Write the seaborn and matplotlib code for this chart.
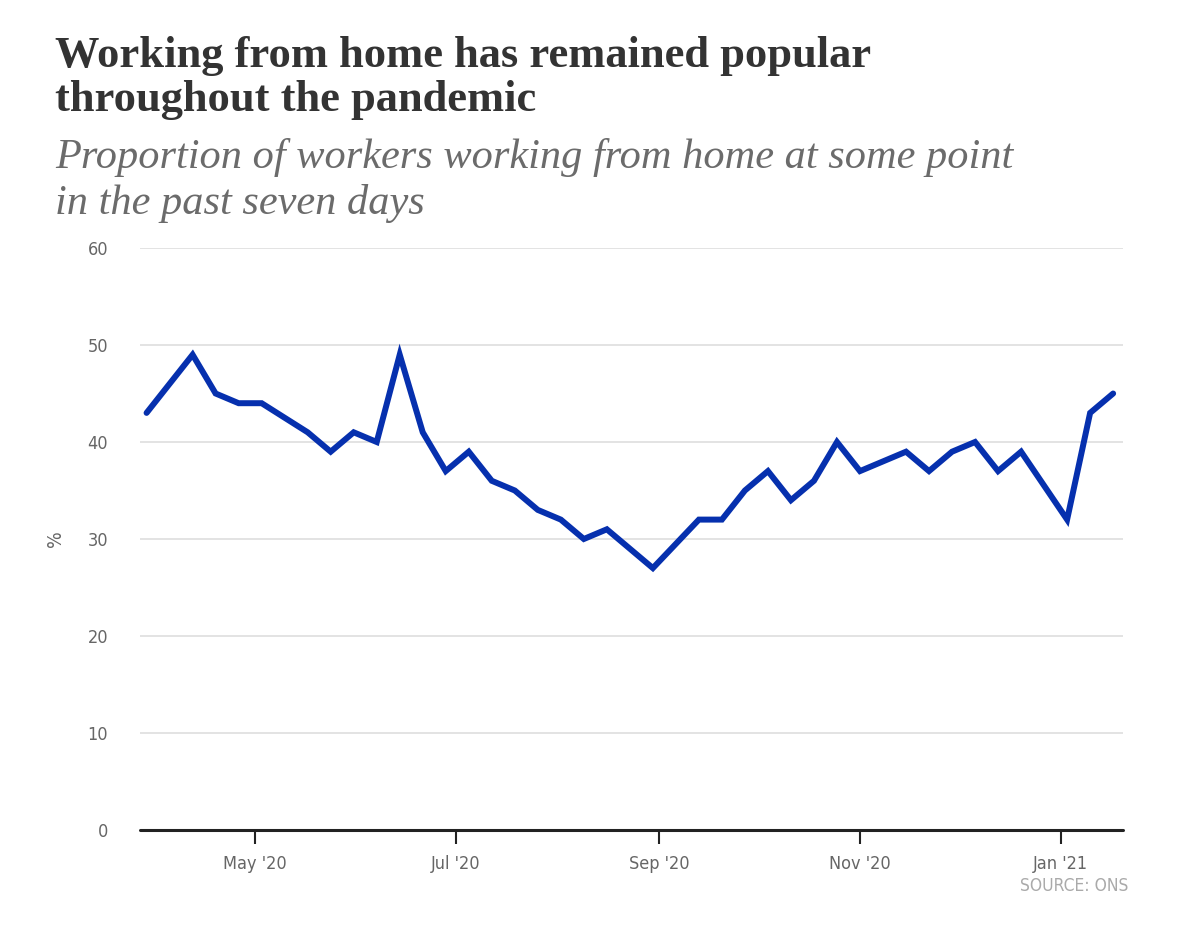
import matplotlib
matplotlib.use("Agg")
import matplotlib.pyplot as plt
import seaborn as sns
import pandas as pd

dates = ["2020-03-29", "2020-04-12", "2020-04-19", "2020-04-26", "2020-05-03",
         "2020-05-10", "2020-05-17", "2020-05-24", "2020-05-31", "2020-06-07",
         "2020-06-14", "2020-06-21", "2020-06-28", "2020-07-05", "2020-07-12",
         "2020-07-19", "2020-07-26", "2020-08-02", "2020-08-09", "2020-08-16",
         "2020-08-30", "2020-09-13", "2020-09-20", "2020-09-27", "2020-10-04",
         "2020-10-11", "2020-10-18", "2020-10-25", "2020-11-01", "2020-11-08",
         "2020-11-15", "2020-11-22", "2020-11-29", "2020-12-06", "2020-12-13",
         "2020-12-20", "2021-01-03", "2021-01-10", "2021-01-17"]
values = [43, 49, 45, 44, 44,
          42.5, 41, 39, 41, 40,
          49, 41, 37, 39, 36,
          35, 33, 32, 30, 31,
          27, 32, 32, 35, 37,
          34, 36, 40, 37, 38,
          39, 37, 39, 40, 37,
          39, 32, 43, 45]
tick_dates = ["2020-05-01", "2020-07-01", "2020-09-01", "2020-11-01", "2021-01-01"]
tick_labels = ["May '20", "Jul '20", "Sep '20", "Nov '20", "Jan '21"]
y_ticks = [0, 10, 20, 30, 40, 50, 60]

df = pd.DataFrame({"date": pd.to_datetime(dates), "value": values})

sns.set_theme(style="white")
plt.rcParams["font.family"] = ["DejaVu Sans"]
plt.rcParams["font.stretch"] = "condensed"

fig = plt.figure(figsize=(12, 9.43), dpi=100)
ax = fig.add_axes([140/1200, 1-830/943, (1123-140)/1200, (830-248)/943])

sns.lineplot(data=df, x="date", y="value", ax=ax, color="#0630AE", linewidth=4.3,
             solid_joinstyle="miter", zorder=3)

ax.set_xlim(pd.Timestamp("2020-03-27"), pd.Timestamp("2021-01-20"))
ax.set_ylim(0, 60)
ax.set_yticks(y_ticks)
ax.set_yticklabels([str(v) for v in y_ticks], fontsize=13, color="#666666", fontstretch="condensed")
ax.set_xticks(pd.to_datetime(tick_dates))
ax.set_xticklabels(tick_labels, fontsize=13, color="#666666", fontstretch="condensed")

for v in y_ticks[1:]:
    ax.axhline(v, color="#e0e0e0", linewidth=1.3, zorder=1)
ax.axhline(0, color="#222222", linewidth=2.2, zorder=4, clip_on=False)

for s in ax.spines.values():
    s.set_visible(False)

ax.tick_params(axis="y", length=0, pad=23)
ax.tick_params(axis="x", length=10, width=1.5, color="#222222", pad=8, direction="out", bottom=True)
ax.set_xlabel("")
ax.set_ylabel("%", fontsize=14, color="#666666", labelpad=16)

fig.text(55/1200, 1-36/943, "Working from home has remained popular\nthroughout the pandemic",
         fontsize=32, fontweight="bold", family=["Liberation Serif", "DejaVu Serif"],
         color="#333333", va="top", ha="left", linespacing=1.12)
fig.text(55/1200, 1-138/943, "Proportion of workers working from home at some point\nin the past seven days",
         fontsize=30.5, style="italic", family=["Liberation Serif", "DejaVu Serif"],
         color="#6b6b6b", va="top", ha="left", linespacing=1.23)
fig.text(1128/1200, 1-895/943, "SOURCE: ONS", fontsize=12.5, color="#aaaaaa",
         ha="right", va="bottom", fontstretch="condensed")

fig.savefig("out.png", dpi=100, facecolor="white")
